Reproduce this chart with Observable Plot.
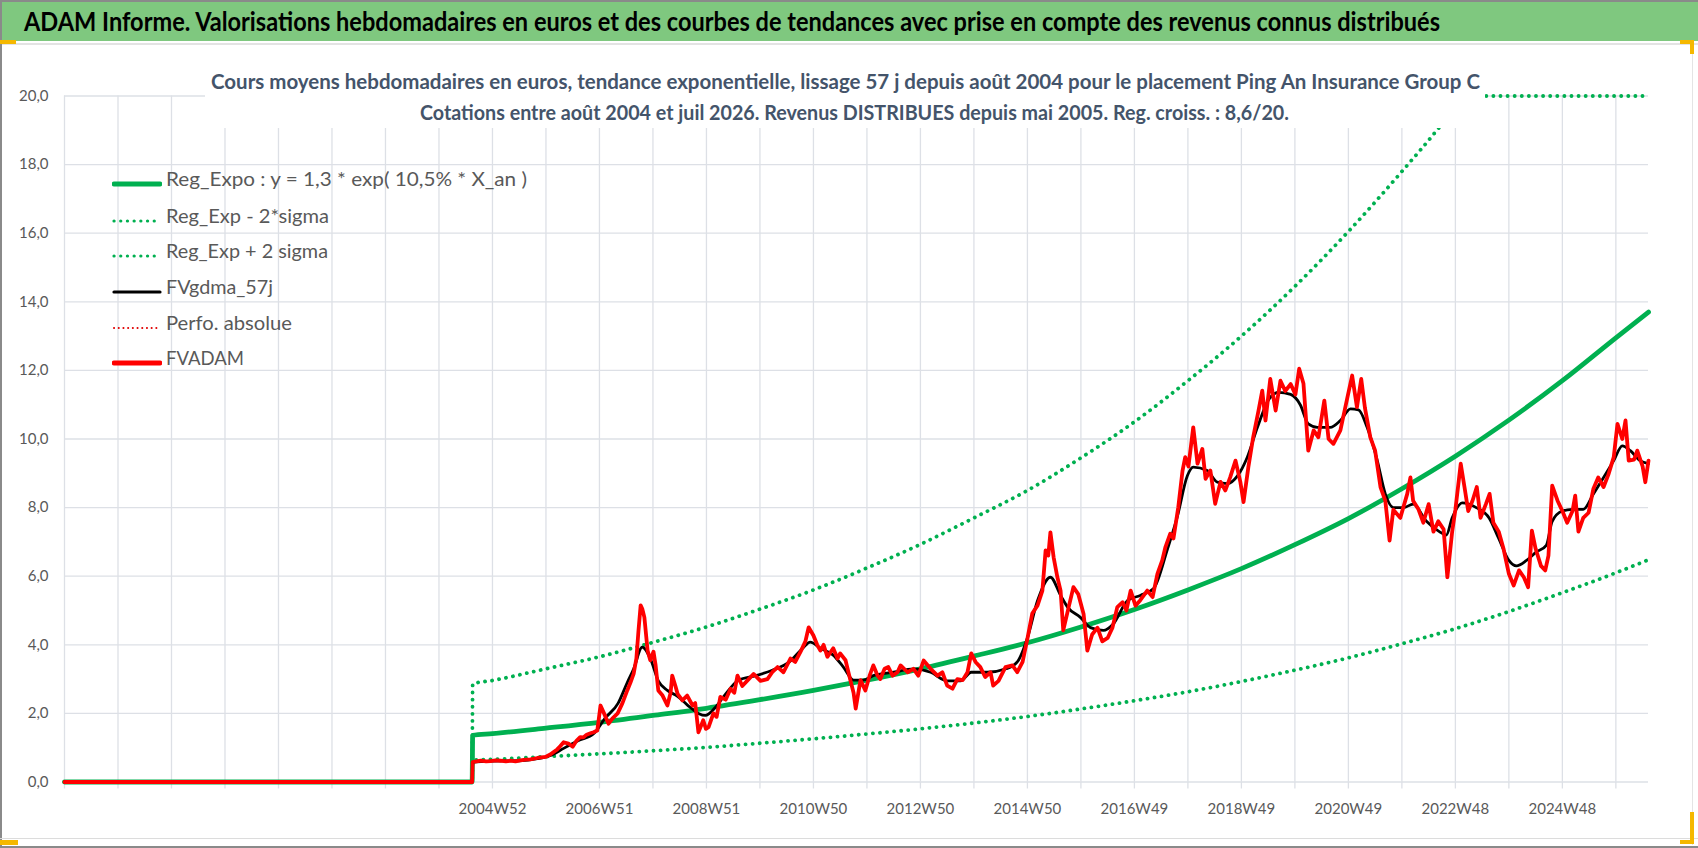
<!DOCTYPE html>
<html><head><meta charset="utf-8">
<script src="https://cdn.jsdelivr.net/npm/d3@7"></script>
<script src="https://cdn.jsdelivr.net/npm/@observablehq/plot@0.6"></script>
<style>
body{margin:0;background:#fff;width:1698px;height:848px;overflow:hidden;position:relative;font-family:Lato,"DejaVu Sans Condensed",sans-serif;}
.abs{position:absolute;white-space:nowrap;}
#titlebar{position:absolute;left:0;top:0;width:1698px;height:41px;background:#7fc87f;border-top:2px solid #8a8a8a;box-sizing:border-box;}
#title{left:24px;top:21px;font-weight:bold;font-size:27px;color:#000;transform-origin:left center;line-height:1;margin-top:-14px;}
#sep{left:0;top:43px;width:1698px;height:2px;background:#e3e3e3;}
#chart{left:0;top:45px;}
#subbox{left:205px;top:52px;width:1280px;height:76px;background:#fff;}
.sub{font-weight:bold;font-size:21px;color:#44546a;transform-origin:left center;line-height:1;margin-top:-10.5px;}
.leg{left:166px;font-size:20px;color:#595959;transform-origin:left center;line-height:1;margin-top:-10px;}
.sample{left:112px;width:50px;height:10px;margin-top:-5px;}
.frame{position:absolute;}
</style>
</head><body>
<div id="titlebar"></div>
<div id="title" class="abs" data-w="1416">ADAM Informe. Valorisations hebdomadaires en euros et des courbes de tendances avec prise en compte des revenus connus distribués</div>
<div id="sep" class="abs"></div>
<div id="chart" class="abs"></div>
<div id="subbox" class="abs"></div>
<div class="abs sub" style="left:211px;top:80px" data-w="1269">Cours moyens hebdomadaires en euros, tendance exponentielle, lissage 57 j depuis août 2004 pour le placement Ping An Insurance Group C</div>
<div class="abs sub" style="left:420px;top:111px" data-w="869">Cotations entre août 2004 et juil 2026. Revenus DISTRIBUES depuis mai 2005. Reg. croiss. : 8,6/20.</div>
<div id="legend"></div>
<div class="frame" style="left:0;top:0;width:2px;height:848px;background:#8a8a8a"></div>
<div class="frame" style="left:0;top:838px;width:1698px;height:1px;background:#dcdcdc"></div>
<div class="frame" style="left:0;top:846px;width:1698px;height:2px;background:#8a8a8a"></div>
<div class="frame" style="left:1692px;top:45px;width:1px;height:800px;background:#e4e4e4"></div>
<div class="frame" style="left:0;top:40px;width:16px;height:4px;background:#f5b800"></div>
<div class="frame" style="left:0;top:840px;width:18px;height:5px;background:#f5b800"></div>
<div class="frame" style="left:1680px;top:40px;width:14px;height:4px;background:#f5b800"></div>
<div class="frame" style="left:1690px;top:40px;width:4px;height:14px;background:#f5b800"></div>
<div class="frame" style="left:1690px;top:812px;width:4px;height:32px;background:#f5b800"></div>
<div class="frame" style="left:1680px;top:840px;width:14px;height:4px;background:#f5b800"></div>
<script>
// ---------- data ----------
const yTicks = [0, 2, 4, 6, 8, 10, 12, 14, 16, 18, 20];
const gridYears = [1997,1998,1999,2000,2001,2002,2003,2004,2005,2006,2007,2008,2009,2010,2011,2012,2013,2014,2015,2016,2017,2018,2019,2020,2021,2022,2023,2024,2025,2026];
const labelYears = [2005, 2007, 2009, 2011, 2013, 2015, 2017, 2019, 2021, 2023, 2025];
const weekLabels = ["2004W52","2006W51","2008W51","2010W50","2012W50","2014W50","2016W49","2018W49","2020W49","2022W48","2024W48"];
const xDomain = [1997, 2026.61];

const legendLabels = ["Reg_Expo : y = 1,3 * exp( 10,5% *  X_an )","Reg_Exp - 2*sigma","Reg_Exp + 2 sigma","FVgdma_57j","Perfo. absolue","FVADAM"];

const regExpo = [[1997,0],[2004.62,0],[2004.63,1.36],[2005,1.41],[2006,1.57],[2007,1.74],[2008,1.94],[2009,2.15],[2010,2.4],[2011,2.67],[2012,2.97],[2013,3.3],[2014,3.67],[2015,4.06],[2016,4.52],[2017,5.03],[2018,5.6],[2019,6.22],[2020,6.92],[2021,7.68],[2022,8.55],[2023,9.5],[2024,10.55],[2025,11.7],[2026,12.95],[2026.61,13.7]];
const regMinus = [[1997,0],[2004.62,0],[2004.63,0.64],[2005,0.66],[2006,0.74],[2007,0.82],[2008,0.91],[2009,1.01],[2010,1.13],[2011,1.26],[2012,1.4],[2013,1.55],[2014,1.72],[2015,1.91],[2016,2.13],[2017,2.37],[2018,2.63],[2019,2.93],[2020,3.26],[2021,3.62],[2022,4.03],[2023,4.47],[2024,4.97],[2025,5.52],[2026,6.1],[2026.61,6.48]];
const regPlus = [[1997,0],[2004.62,0],[2004.63,2.86],[2005,2.96],[2006,3.3],[2007,3.65],[2008,4.07],[2009,4.52],[2010,5.04],[2011,5.6],[2012,6.24],[2013,6.93],[2014,7.7],[2015,8.5],[2016,9.45],[2017,10.5],[2018,11.7],[2019,13.0],[2020,14.45],[2021,16.05],[2022,17.8],[2022.68,19.05],[2023.16,20],[2024,20],[2025,20],[2026.61,20]];

const fvgdma = [[1997,0],[2004.62,0],[2004.63,0.58],[2005.0,0.61],[2005.5,0.62],[2005.84,0.68],[2006.1,0.78],[2006.33,0.98],[2006.6,1.2],[2006.9,1.42],[2007.1,1.85],[2007.35,2.3],[2007.52,2.9],[2007.64,3.3],[2007.8,3.93],[2007.95,3.6],[2008.1,2.95],[2008.27,2.67],[2008.46,2.5],[2008.64,2.25],[2008.85,2.0],[2008.98,1.94],[2009.17,2.18],[2009.36,2.57],[2009.6,2.97],[2009.92,3.1],[2010.22,3.25],[2010.55,3.5],[2010.8,3.9],[2010.94,4.08],[2011.13,3.9],[2011.37,3.7],[2011.56,3.35],[2011.75,2.97],[2011.93,2.97],[2012.12,3.1],[2012.5,3.2],[2012.87,3.3],[2013.19,3.2],[2013.5,2.95],[2013.75,2.95],[2013.95,3.2],[2014.25,3.2],[2014.6,3.3],[2014.81,3.5],[2015.0,4.2],[2015.19,5.29],[2015.43,5.97],[2015.62,5.44],[2015.75,5.1],[2015.99,4.8],[2016.18,4.5],[2016.42,4.42],[2016.6,4.6],[2016.87,5.29],[2017.11,5.44],[2017.36,5.64],[2017.62,6.8],[2017.8,7.72],[2017.99,8.93],[2018.1,9.18],[2018.36,9.08],[2018.55,8.74],[2018.74,8.7],[2018.93,8.93],[2019.11,9.47],[2019.3,10.34],[2019.5,11.12],[2019.69,11.36],[2019.92,11.3],[2020.1,11.0],[2020.25,10.44],[2020.42,10.34],[2020.66,10.34],[2020.85,10.54],[2021.04,10.88],[2021.19,10.85],[2021.35,10.34],[2021.54,9.37],[2021.69,8.4],[2021.84,8.0],[2022.03,8.0],[2022.21,8.1],[2022.46,7.6],[2022.7,7.3],[2022.83,7.2],[2022.94,7.7],[2023.13,8.14],[2023.39,8.0],[2023.63,7.7],[2023.81,7.1],[2024.0,6.46],[2024.14,6.3],[2024.33,6.46],[2024.51,6.7],[2024.7,6.9],[2024.81,7.6],[2025.0,7.9],[2025.19,7.95],[2025.39,7.95],[2025.58,8.4],[2025.77,8.88],[2025.96,9.37],[2026.12,9.8],[2026.27,9.66],[2026.45,9.37],[2026.61,9.28]];

const fvadam = [[1997,0],[2004.62,0],[2004.63,0.58],[2004.7,0.6],[2004.78,0.62],[2004.88,0.6],[2004.96,0.61],[2005.06,0.63],[2005.15,0.62],[2005.25,0.6],[2005.34,0.62],[2005.43,0.6],[2005.52,0.63],[2005.62,0.65],[2005.71,0.66],[2005.84,0.7],[2005.99,0.73],[2006.08,0.8],[2006.15,0.88],[2006.21,0.95],[2006.27,1.05],[2006.33,1.16],[2006.42,1.12],[2006.5,1.03],[2006.57,1.2],[2006.64,1.31],[2006.7,1.3],[2006.76,1.38],[2006.83,1.42],[2006.89,1.45],[2006.96,1.5],[2007.02,2.23],[2007.1,1.95],[2007.17,1.7],[2007.24,1.85],[2007.34,2.0],[2007.43,2.3],[2007.52,2.67],[2007.58,2.9],[2007.64,3.16],[2007.69,3.6],[2007.73,4.42],[2007.77,5.15],[2007.8,5.05],[2007.84,4.8],[2007.9,3.83],[2007.95,3.55],[2008.01,3.8],[2008.05,3.4],[2008.1,2.67],[2008.18,2.52],[2008.27,2.23],[2008.33,2.6],[2008.36,3.1],[2008.42,2.8],[2008.46,2.57],[2008.55,2.38],[2008.64,2.52],[2008.74,2.23],[2008.79,2.3],[2008.85,1.45],[2008.89,1.6],[2008.94,1.8],[2008.99,1.55],[2009.04,1.6],[2009.13,2.0],[2009.19,1.9],[2009.26,2.48],[2009.36,2.4],[2009.45,2.72],[2009.52,2.6],[2009.58,3.1],[2009.67,2.8],[2009.79,3.0],[2009.88,3.15],[2010.01,2.95],[2010.14,3.0],[2010.23,3.2],[2010.33,3.35],[2010.44,3.2],[2010.57,3.6],[2010.66,3.5],[2010.76,3.8],[2010.85,4.1],[2010.91,4.51],[2011.0,4.27],[2011.07,4.0],[2011.13,3.83],[2011.19,4.0],[2011.26,3.65],[2011.37,3.9],[2011.45,3.6],[2011.5,3.75],[2011.6,3.55],[2011.69,2.97],[2011.75,2.6],[2011.79,2.14],[2011.85,2.7],[2011.88,2.97],[2011.97,2.67],[2012.05,3.1],[2012.12,3.4],[2012.2,3.1],[2012.25,3.0],[2012.33,3.3],[2012.4,3.35],[2012.48,3.1],[2012.57,3.2],[2012.63,3.4],[2012.76,3.2],[2012.87,3.3],[2012.96,3.1],[2013.06,3.54],[2013.19,3.3],[2013.32,3.1],[2013.41,3.2],[2013.5,2.81],[2013.6,2.72],[2013.69,3.0],[2013.79,2.97],[2013.88,3.2],[2013.95,3.75],[2014.03,3.5],[2014.12,3.35],[2014.21,3.06],[2014.31,3.2],[2014.36,2.81],[2014.46,2.95],[2014.59,3.35],[2014.72,3.4],[2014.81,3.2],[2014.91,3.5],[2015.0,4.18],[2015.09,4.91],[2015.19,5.15],[2015.28,5.58],[2015.34,6.75],[2015.39,6.6],[2015.43,7.28],[2015.49,6.55],[2015.56,5.97],[2015.62,5.58],[2015.67,4.42],[2015.77,5.09],[2015.86,5.68],[2015.95,5.48],[2016.05,4.9],[2016.12,3.83],[2016.21,4.3],[2016.31,4.5],[2016.4,4.1],[2016.5,4.2],[2016.59,4.5],[2016.68,5.1],[2016.78,5.24],[2016.85,5.0],[2016.93,5.58],[2017.02,5.14],[2017.11,5.3],[2017.24,5.58],[2017.34,5.39],[2017.43,6.07],[2017.52,6.46],[2017.58,6.85],[2017.67,7.24],[2017.73,7.1],[2017.82,8.01],[2017.9,9.08],[2017.95,9.47],[2018.01,9.2],[2018.1,10.34],[2018.18,9.28],[2018.27,9.71],[2018.33,8.84],[2018.42,9.08],[2018.51,8.11],[2018.61,8.75],[2018.7,8.5],[2018.79,8.88],[2018.89,9.37],[2018.98,8.75],[2019.04,8.16],[2019.13,9.18],[2019.22,10.05],[2019.32,10.83],[2019.39,11.41],[2019.45,10.54],[2019.54,11.75],[2019.64,10.83],[2019.73,11.7],[2019.82,11.4],[2019.92,11.6],[2020.01,11.3],[2020.08,12.05],[2020.16,11.62],[2020.25,9.66],[2020.35,10.25],[2020.44,10.05],[2020.55,11.12],[2020.63,10.0],[2020.72,9.86],[2020.85,10.25],[2020.98,11.2],[2021.07,11.85],[2021.16,10.93],[2021.24,11.75],[2021.31,10.9],[2021.41,10.05],[2021.5,9.66],[2021.6,8.6],[2021.69,8.2],[2021.77,7.04],[2021.84,7.94],[2021.97,7.7],[2022.1,8.4],[2022.16,8.88],[2022.21,8.2],[2022.31,7.95],[2022.4,7.56],[2022.5,8.1],[2022.59,7.3],[2022.68,7.6],[2022.78,7.37],[2022.85,5.97],[2022.94,7.3],[2023.0,7.94],[2023.1,9.28],[2023.17,8.6],[2023.24,7.9],[2023.32,8.2],[2023.4,8.6],[2023.47,7.7],[2023.57,8.1],[2023.64,8.4],[2023.71,7.56],[2023.81,7.3],[2023.9,6.8],[2024.0,6.07],[2024.09,5.73],[2024.19,6.17],[2024.28,5.97],[2024.36,5.68],[2024.43,7.33],[2024.5,6.8],[2024.6,6.3],[2024.68,6.17],[2024.74,6.6],[2024.81,8.64],[2024.91,8.2],[2025.0,7.9],[2025.09,7.56],[2025.19,7.9],[2025.24,8.35],[2025.3,7.3],[2025.39,7.7],[2025.49,7.85],[2025.58,8.55],[2025.67,8.88],[2025.77,8.6],[2025.86,8.96],[2025.96,9.47],[2026.03,10.44],[2026.12,10.0],[2026.18,10.54],[2026.24,9.37],[2026.34,9.4],[2026.4,9.66],[2026.5,9.2],[2026.55,8.74],[2026.61,9.37]];

// ---------- styles ----------
const GREEN = "#00b050", RED = "#ff0000", DRED = "#e00000", GRID = "#dde0e6";
const dotted = {stroke: GREEN, strokeWidth: 3.8, strokeDasharray: "0.1 7", strokeLinecap: "round", curve: "monotone-x"};
const fmt = d => d.toFixed(1).replace(".", ",");

const svg = Plot.plot({
  width: 1698, height: 803,
  marginLeft: 64, marginRight: 50, marginTop: 50.5, marginBottom: 66.5,
  style: {fontFamily: 'Lato,"DejaVu Sans Condensed",sans-serif', fontSize: "15px", color: "#595959", background: "transparent", overflow: "visible"},
  x: {domain: xDomain, axis: null},
  y: {domain: [0, 20], axis: null},
  marks: [
    Plot.gridX(gridYears, {stroke: GRID, strokeOpacity: 1, strokeWidth: 1.3}),
    Plot.gridY(yTicks, {stroke: GRID, strokeOpacity: 1, strokeWidth: 1.3}),
    Plot.axisX(gridYears, {tickSize: 7, tickFormat: () => "", stroke: GRID, strokeWidth: 1.3}),
    Plot.axisX(labelYears, {tickSize: 0, tickPadding: 21, tickFormat: d => weekLabels[labelYears.indexOf(d)], fill: "#595959", fontSize: 15}),
    Plot.axisY(yTicks, {tickSize: 0, tickPadding: 16, tickFormat: fmt, fill: "#595959", fontSize: 15}),
    Plot.line(regExpo, {stroke: GREEN, strokeWidth: 4.8, curve: "monotone-x"}),
    Plot.line(regMinus, dotted),
    Plot.line(regPlus, dotted),
    Plot.line(fvgdma, {stroke: "#000", strokeWidth: 2.8, curve: "monotone-x"}),
    Plot.line(fvadam, {stroke: RED, strokeWidth: 3.8, strokeLinejoin: "round"})
  ]
});
document.getElementById("chart").appendChild(svg);

// ---------- legend ----------
const legendRows = [178, 214.5, 250, 286, 321.5, 357];
const legendSamples = [
  `<line x1="2" y1="5" x2="48" y2="5" stroke="${GREEN}" stroke-width="4.8" stroke-linecap="round"/>`,
  `<line x1="2" y1="5" x2="48" y2="5" stroke="${GREEN}" stroke-width="3.2" stroke-dasharray="0.1 6.6" stroke-linecap="round"/>`,
  `<line x1="2" y1="5" x2="48" y2="5" stroke="${GREEN}" stroke-width="3.2" stroke-dasharray="0.1 6.6" stroke-linecap="round"/>`,
  `<line x1="2" y1="5" x2="48" y2="5" stroke="#000" stroke-width="3.2" stroke-linecap="round"/>`,
  `<line x1="2" y1="5" x2="48" y2="5" stroke="${DRED}" stroke-width="2" stroke-dasharray="0.1 4.6" stroke-linecap="round"/>`,
  `<line x1="2" y1="5" x2="48" y2="5" stroke="${RED}" stroke-width="4.8" stroke-linecap="round"/>`
];
const legendWidths = [361, 163, 162, 107, 126, 78];
const leg = document.getElementById("legend");
legendLabels.forEach((lab, i) => {
  const s = document.createElement("div");
  s.className = "abs sample"; s.style.top = legendRows[i] + "px";
  s.innerHTML = `<svg width="50" height="10">${legendSamples[i]}</svg>`;
  leg.appendChild(s);
  const t = document.createElement("div");
  t.className = "abs leg"; t.style.top = legendRows[i] + "px";
  t.dataset.w = legendWidths[i];
  t.textContent = lab;
  leg.appendChild(t);
});

// fit text widths
document.querySelectorAll("[data-w]").forEach(el => {
  const w = el.getBoundingClientRect().width;
  el.style.transform = `scaleX(${(+el.dataset.w / w).toFixed(4)})`;
});
</script>
</body></html>
